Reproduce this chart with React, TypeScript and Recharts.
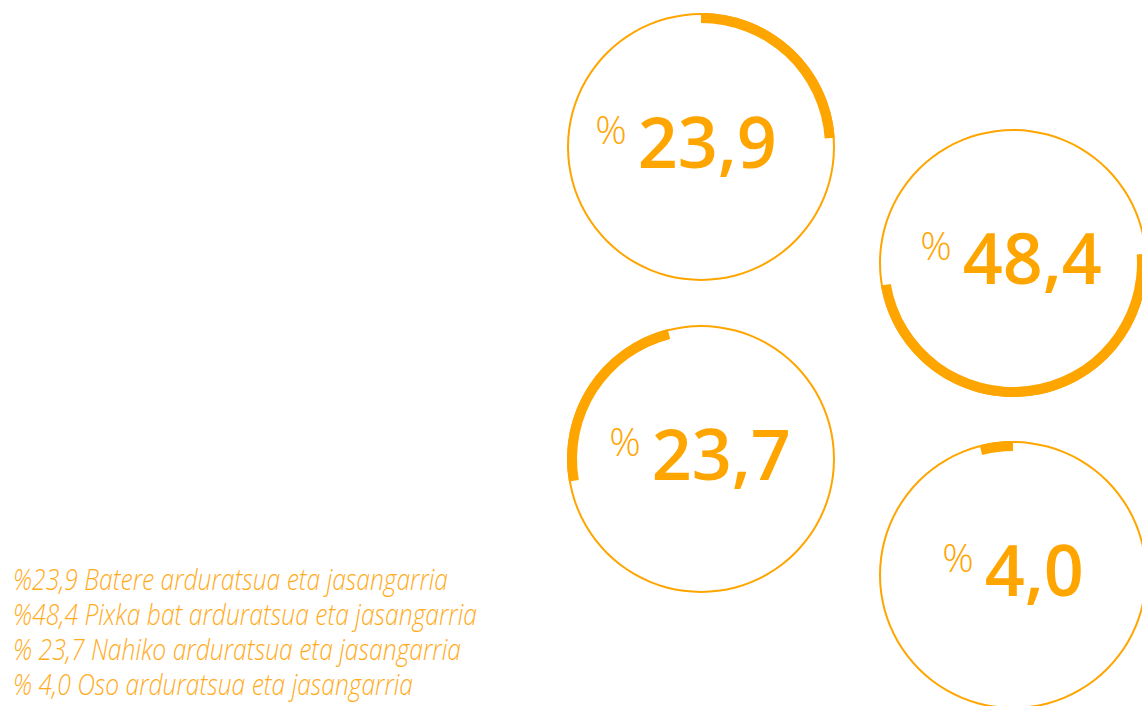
import { PieChart, Pie, Cell } from 'recharts';

const categories = [
  'Batere arduratsua eta jasangarria',
  'Pixka bat arduratsua eta jasangarria',
  'Nahiko arduratsua eta jasangarria',
  'Oso arduratsua eta jasangarria',
];
const shares = [23.9, 48.4, 23.7, 4.0];
const legendLines = [
  '%23,9 Batere arduratsua eta jasangarria',
  '%48,4 Pixka bat arduratsua eta jasangarria',
  '% 23,7 Nahiko arduratsua eta jasangarria',
  '% 4,0 Oso arduratsua eta jasangarria',
];

const W = 1142;
const H = 706;
const ORANGE = '#FFA500';
const LEGEND = '#FFAC1C';
const R = 134;

// ring centres, one per category
const rings = [
  { cx: 701, cy: 147, nudge: -15 },
  { cx: 1013, cy: 263, nudge: -2 },
  { cx: 701, cy: 459, nudge: -1 },
  { cx: 1013, cy: 575, nudge: 0 },
];
const legendLayout = [
  { y: 590, len: 435 },
  { y: 625, len: 464 },
  { y: 660, len: 448 },
  { y: 695, len: 400 },
];

const pieData = categories.map((name, i) => ({ name, value: shares[i] }));
const fmt = (v: number) => v.toFixed(1).replace('.', ',');

function RingLabels() {
  return (
    <g>
      {rings.map((r, i) => (
        <text
          key={`lbl-${i}`}
          x={r.cx + r.nudge}
          y={r.cy + 21}
          textAnchor="middle"
          fill={ORANGE}
          fontFamily="'Open Sans', sans-serif"
        >
          <tspan fontSize={39} fontWeight={300} dy={-24}>%</tspan>
          <tspan fontSize={70} fontWeight={600} dx={11} dy={24}>{fmt(shares[i])}</tspan>
        </text>
      ))}
      {legendLines.map((t, i) => (
        <text
          key={`leg-${i}`}
          x={13}
          y={legendLayout[i].y}
          fill={LEGEND}
          fontSize={30}
          fontStyle="italic"
          fontWeight={300}
          fontFamily="'Open Sans', sans-serif"
          textLength={legendLayout[i].len}
          lengthAdjust="spacingAndGlyphs"
        >
          {t}
        </text>
      ))}
    </g>
  );
}

export default function App() {
  return (
    <div style={{ position: 'absolute', left: 0, top: 0, width: W, height: H, overflow: 'hidden', background: '#fff' }}>
      <PieChart width={W} height={H} margin={{ top: 0, right: 0, bottom: 0, left: 0 }}>
        {rings.map((r, i) => (
          <Pie
            key={`ring-${i}`}
            data={[{ name: 'ring', value: 100 }]}
            dataKey="value"
            cx={r.cx}
            cy={r.cy}
            innerRadius={R - 2}
            outerRadius={R}
            startAngle={90}
            endAngle={-270}
            fill={ORANGE}
            stroke="none"
            isAnimationActive={false}
          />
        ))}
        {rings.map((r, i) => (
          <Pie
            key={`arc-${i}`}
            data={pieData}
            dataKey="value"
            cx={r.cx}
            cy={r.cy}
            innerRadius={R - 10}
            outerRadius={R}
            startAngle={90}
            endAngle={-270}
            stroke="none"
            isAnimationActive={false}
          >
            {pieData.map((_, j) => (
              <Cell key={`c-${j}`} fill={j === i ? ORANGE : 'transparent'} />
            ))}
          </Pie>
        ))}
        <RingLabels />
      </PieChart>
    </div>
  );
}
